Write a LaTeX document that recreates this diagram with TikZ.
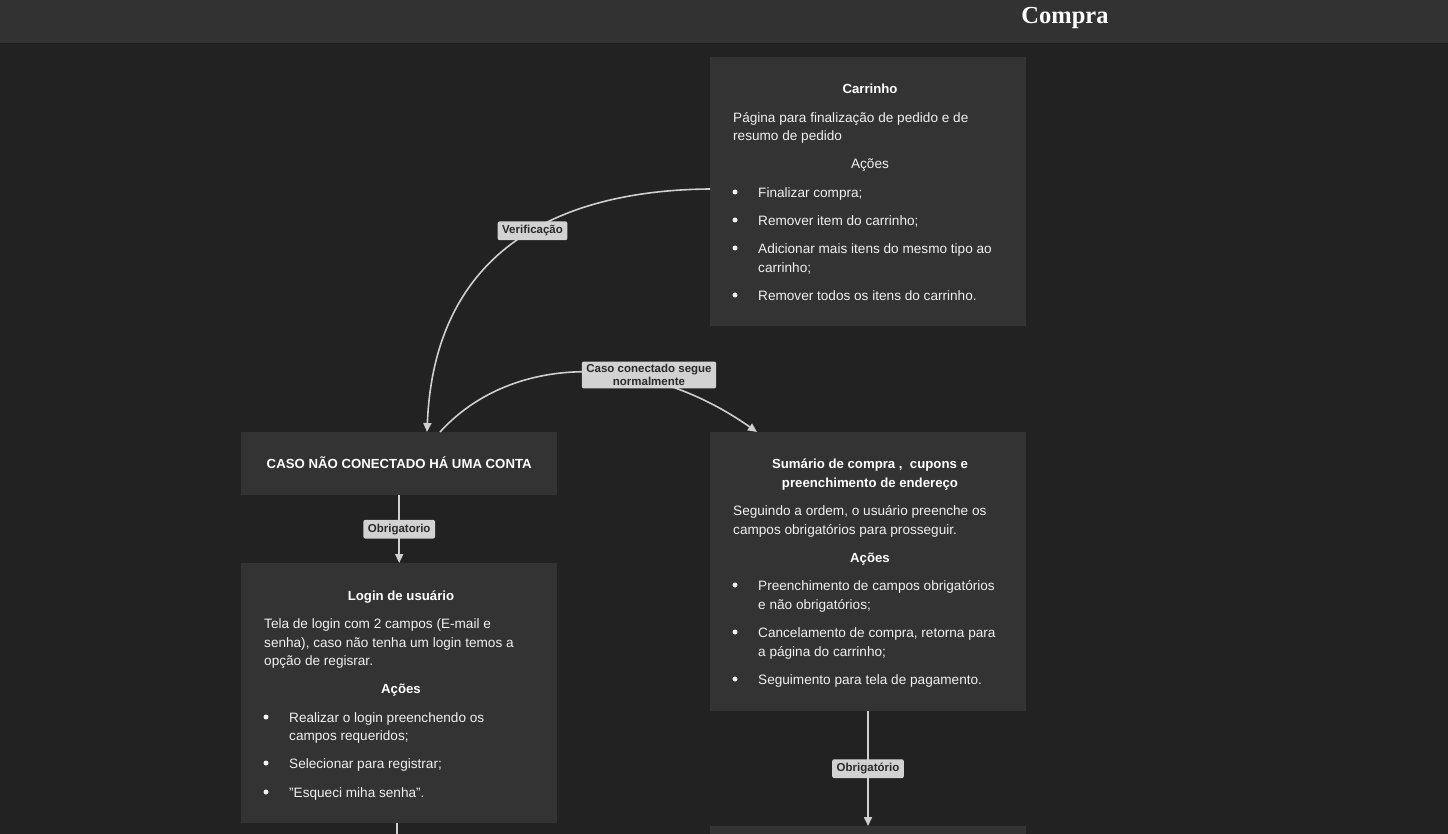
\documentclass[tikz,border=0pt]{standalone}
\usepackage{fontspec}
\setmainfont{Liberation Sans}
\newfontfamily\titlefont{Liberation Serif}
\usetikzlibrary{arrows.meta,calc}
\definecolor{bgc}{HTML}{222222}
\definecolor{headc}{HTML}{323232}
\definecolor{headline}{HTML}{1A1A1A}
\definecolor{boxc}{HTML}{333333}
\definecolor{txtc}{HTML}{F0F0F0}
\definecolor{linec}{HTML}{CFCFCF}
\definecolor{lblc}{HTML}{D2D2D2}
\definecolor{lbltxt}{HTML}{2A2A2A}
\begin{document}
\begin{tikzpicture}[x=1pt,y=-1pt,
  box/.style={fill=boxc, draw=none, minimum width=316pt, anchor=north west, inner sep=0pt},
  body/.style={text=txtc, font=\fontsize{13.6}{16}\selectfont, inner sep=0pt, yshift=-2.5pt},
  lft/.style={body, anchor=mid west},
  ctr/.style={body, anchor=mid},
  bld/.style={body, anchor=mid, font=\bfseries\fontsize{13.2}{16}\selectfont, text=white},
  bul/.style={fill=txtc, draw=none, circle, inner sep=0pt, minimum size=5pt},
  conn/.style={draw=linec, line width=1.6pt, -{Triangle[width=8pt,length=9pt]}},
  plainconn/.style={draw=linec, line width=1.6pt},
  lbl/.style={fill=lblc, text=lbltxt, rounded corners=2pt, font=\bfseries\fontsize{11.5}{13}\selectfont, inner xsep=4.5pt, inner ysep=4pt, align=center}
]
\useasboundingbox (0,0) rectangle (1448,834);
\fill[bgc] (0,0) rectangle (1448,834);
% header
\node[fill=headc, minimum width=1448pt, minimum height=43pt, anchor=north west, inner sep=0pt] (header) at (0,0) {};
\draw[headline, line width=1pt] (header.south west) -- (header.south east);
\node[text=white, font=\titlefont\bfseries\fontsize{24.5}{28}\selectfont, anchor=mid] (title) at (1065,21) {Compra};

% boxes
\node[box, minimum height=269pt] (cart) at (710,57) {};
\node[box, minimum height=63pt] (caso) at (241,432) {};
\node[box, minimum height=260pt] (login) at (241,563) {};
\node[box, minimum height=279pt] (sum) at (710,432) {};
\node[box, minimum height=30pt] (next) at (710,826) {};

% Carrinho text
\node[bld] (cartT) at (870,88) {Carrinho};
\node[lft] (cartD1) at (733,117) {Página para finalização de pedido e de};
\node[lft] (cartD2) at (733,135) {resumo de pedido};
\node[ctr] (cartA) at (870,163) {Ações};
\node[bul] (cb1) at (735,192) {}; \node[lft] (ct1) at (758,192) {Finalizar compra;};
\node[bul] (cb2) at (735,220) {}; \node[lft] (ct2) at (758,220) {Remover item do carrinho;};
\node[bul] (cb3) at (735,248) {}; \node[lft] (ct3) at (758,248) {Adicionar mais itens do mesmo tipo ao};
\node[lft] (ct3b) at (758,267) {carrinho;};
\node[bul] (cb4) at (735,295) {}; \node[lft] (ct4) at (758,295) {Remover todos os itens do carrinho.};

% Caso text
\node[bld] (casoT) at (caso.center) {CASO NÃO CONECTADO HÁ UMA CONTA};

% Login text
\node[bld] (logT) at (401,595) {Login de usuário};
\node[lft] (logD1) at (264,623) {Tela de login com 2 campos (E-mail e};
\node[lft] (logD2) at (264,642) {senha), caso não tenha um login temos a};
\node[lft] (logD3) at (264,660) {opção de regisrar.};
\node[bld] (logA) at (401,688) {Ações};
\node[bul] (lb1) at (266,717) {}; \node[lft] (lt1) at (289,717) {Realizar o login preenchendo os};
\node[lft] (lt1b) at (289,735) {campos requeridos;};
\node[bul] (lb2) at (266,763) {}; \node[lft] (lt2) at (289,763) {Selecionar para registrar;};
\node[bul] (lb3) at (266,792) {}; \node[lft] (lt3) at (289,792) {\symbol{34}Esqueci miha senha\symbol{34}.};

% Sumario text
\node[bld] (sumT1) at (870,463) {Sumário de compra ,\ \ cupons e};
\node[bld] (sumT2) at (870,482) {preenchimento de endereço};
\node[lft] (sumD1) at (733,510) {Seguindo a ordem, o usuário preenche os};
\node[lft] (sumD2) at (733,529) {campos obrigatórios para prosseguir.};
\node[bld] (sumA) at (870,557) {Ações};
\node[bul] (sb1) at (735,585) {}; \node[lft] (st1) at (758,585) {Preenchimento de campos obrigatórios};
\node[lft] (st1b) at (758,604) {e não obrigatórios;};
\node[bul] (sb2) at (735,632) {}; \node[lft] (st2) at (758,632) {Cancelamento de compra, retorna para};
\node[lft] (st2b) at (758,651) {a página do carrinho;};
\node[bul] (sb3) at (735,679) {}; \node[lft] (st3) at (758,679) {Seguimento para tela de pagamento.};

% connectors
\coordinate (cartOut) at ($(cart.north west)+(0,132)$);
\coordinate (casoIn) at ($(caso.north west)+(186,0)$);
\coordinate (casoOut) at ($(caso.north west)+(199,0)$);
\coordinate (sumIn) at ($(sum.north west)+(47,0)$);
\coordinate (loginOut) at ($(login.south west)+(156,0)$);
\coordinate (loginFar) at ($(login.south west)+(156,30)$);

\draw[conn] (cartOut) .. controls (580,190) and (435,235) .. (casoIn)
  node[lbl, pos=0.47] (lblVer) {Verificação};
\draw[conn] (casoOut) .. controls (510,355) and (640,350) .. (sumIn);
\node[lbl, font=\bfseries\fontsize{11.5}{13.5}\selectfont, inner ysep=2.5pt] (lblCaso) at (649,375) {Caso conectado segue\\normalmente};
\draw[conn] (caso.south) -- (login.north) node[lbl, midway] (lblObr1) {Obrigatorio};
\draw[conn] ($(sum.south west)+(158,0)$) -- ($(next.north west)+(158,0)$) node[lbl, midway] (lblObr2) {Obrigatório};
\draw[plainconn] (loginOut) -- (loginFar);
\end{tikzpicture}
\end{document}
